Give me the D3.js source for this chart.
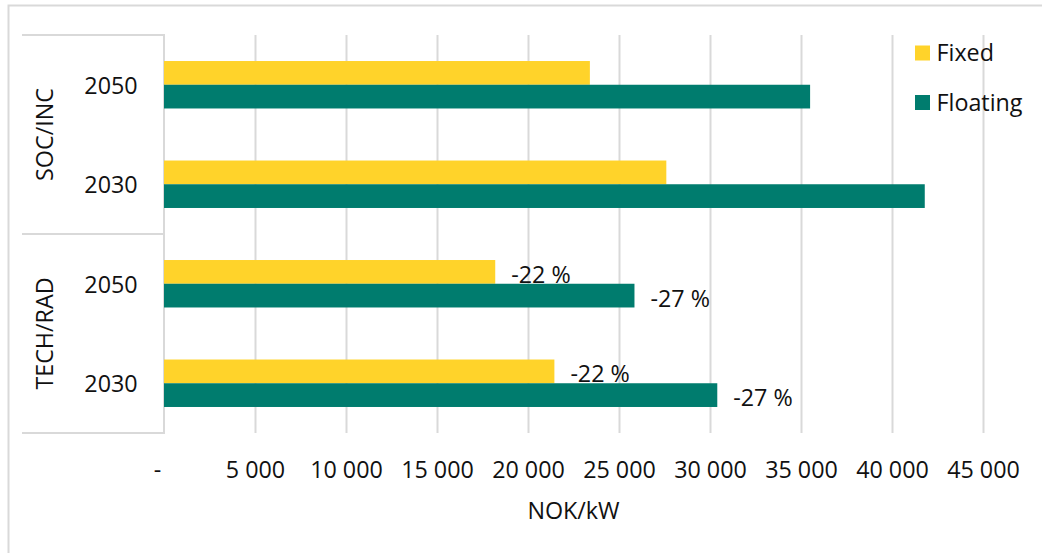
<!DOCTYPE html>
<html>
<head>
<meta charset="utf-8">
<script src="https://cdn.jsdelivr.net/npm/d3@7"></script>
<style>
  html, body { margin: 0; padding: 0; background: #fff; }
  svg { display: block; font-family: "Open Sans", "Noto Sans", sans-serif; }
</style>
</head>
<body>
<svg id="chart" width="1042" height="553"></svg>
<script>
// ---- data ----
const groups = ["SOC/INC", "TECH/RAD"];
const years = ["2050", "2030"];
const series = ["Fixed", "Floating"];
const colors = ["#FFD32A", "#007C6E"];
const fixedValues    = [23400, 27600, 18200, 21450];
const floatingValues = [35500, 41800, 25850, 30400];
const fixedLabels    = ["", "", "-22 %", "-22 %"];
const floatingLabels = ["", "", "-27 %", "-27 %"];
const tickValues = [0, 5000, 10000, 15000, 20000, 25000, 30000, 35000, 40000, 45000];
const tickLabels = ["-", "5 000", "10 000", "15 000", "20 000", "25 000", "30 000", "35 000", "40 000", "45 000"];
const axisTitle = "NOK/kW";

// ---- layout ----
const svg = d3.select("#chart");
const W = 1042, H = 553;
const plot = { left: 164, right: 983, top: 35, bottom: 433 };
const fontSize = 23.3;
const textColor = "#111";
const gridColor = "#d9d9d9";

const rows = [];
groups.forEach(g => years.forEach(y => rows.push({ group: g, year: y })));
rows.forEach((r, i) => {
  r.key = r.group + "|" + r.year;
  r.values = [fixedValues[i], floatingValues[i]];
  r.labels = [fixedLabels[i], floatingLabels[i]];
});

const x = d3.scaleLinear().domain([0, 45000]).range([plot.left, plot.right]);
const y = d3.scaleBand().domain(rows.map(r => r.key)).range([plot.top, plot.bottom]);
const barGroupFrac = 0.477;
const yInner = d3.scaleBand().domain(series).range([0, y.bandwidth() * barGroupFrac]);

// outer chart border (top & left visible)
svg.append("path")
  .attr("d", `M8.5,${H} L8.5,5.5 L${W},5.5`)
  .attr("fill", "none").attr("stroke", gridColor).attr("stroke-width", 2);

// gridlines
const gridAxis = d3.axisBottom(x).tickValues(tickValues.slice(1)).tickSize(-(plot.bottom - plot.top)).tickFormat("");
const grid = svg.append("g").attr("transform", `translate(0,${plot.bottom})`).call(gridAxis);
grid.select(".domain").remove();
grid.selectAll("line").attr("stroke", gridColor).attr("stroke-width", 2);

// tick labels
const labelAxis = d3.axisBottom(x).tickValues(tickValues).tickSize(0)
  .tickFormat((d, i) => tickLabels[i]);
const lab = svg.append("g").attr("transform", `translate(0,${plot.bottom})`).call(labelAxis);
lab.select(".domain").remove();
lab.selectAll("text")
  .attr("font-family", "Open Sans, sans-serif")
  .attr("font-size", fontSize).attr("fill", textColor)
  .attr("y", 0).attr("dy", 0)
  .attr("transform", "translate(0,35.5)")
  .attr("dominant-baseline", "central")
  .attr("dx", (d, i) => i === 0 ? -7 : 0);

// axis title
svg.append("text")
  .attr("x", (plot.left + plot.right) / 2).attr("y", 510)
  .attr("text-anchor", "middle").attr("dominant-baseline", "central")
  .attr("font-size", fontSize).attr("fill", textColor)
  .text(axisTitle);

// category boxes
const boxLeft = 22;
const boxLines = svg.append("g").attr("stroke", gridColor).attr("stroke-width", 2).attr("fill", "none");
groups.forEach(g => {
  const first = y(g + "|" + years[0]);
  boxLines.append("line").attr("x1", boxLeft).attr("x2", plot.left).attr("y1", first).attr("y2", first);
});
boxLines.append("line").attr("x1", boxLeft).attr("x2", plot.left).attr("y1", plot.bottom).attr("y2", plot.bottom);
boxLines.append("line").attr("x1", plot.left).attr("x2", plot.left).attr("y1", plot.top - 1).attr("y2", plot.bottom + 1);

// year labels
svg.append("g").selectAll("text").data(rows).join("text")
  .attr("x", 111)
  .attr("y", r => y(r.key) + y.bandwidth() / 2)
  .attr("text-anchor", "middle").attr("dominant-baseline", "central")
  .attr("font-size", fontSize).attr("fill", textColor)
  .text(r => r.year);

// group labels rotated
svg.append("g").selectAll("text").data(groups).join("text")
  .attr("transform", g => `translate(44,${y(g + "|" + years[0]) + y.bandwidth()}) rotate(-90)`)
  .attr("text-anchor", "middle").attr("dominant-baseline", "central")
  .attr("font-size", fontSize).attr("fill", textColor)
  .text(g => g);

// bars
const rowG = svg.append("g").selectAll("g").data(rows).join("g")
  .attr("transform", r => `translate(0,${y(r.key) + y.bandwidth() * (1 - barGroupFrac) / 2})`);
rowG.selectAll("rect").data(r => r.values.map((v, i) => ({ v, i, label: r.labels[i] }))).join("rect")
  .attr("x", x(0))
  .attr("y", d => yInner(series[d.i]))
  .attr("width", d => x(d.v) - x(0))
  .attr("height", yInner.bandwidth())
  .attr("fill", d => colors[d.i]);

// data labels
rowG.selectAll("text").data(r => r.values.map((v, i) => ({ v, i, label: r.labels[i] })).filter(d => d.label)).join("text")
  .attr("x", d => x(d.v) + 16)
  .attr("y", d => yInner(series[d.i]) + yInner.bandwidth() / 2 + 2)
  .attr("dominant-baseline", "central")
  .attr("font-size", fontSize).attr("fill", textColor)
  .text(d => d.label);

// legend
const leg = svg.append("g").selectAll("g").data(series).join("g")
  .attr("transform", (s, i) => `translate(915,${53 + i * 49.5})`);
leg.append("rect").attr("x", 0).attr("y", -7.5).attr("width", 15).attr("height", 15)
  .attr("fill", (s, i) => colors[i]);
leg.append("text").attr("x", 21.5).attr("y", -1)
  .attr("dominant-baseline", "central")
  .attr("font-size", fontSize).attr("fill", textColor)
  .text(s => s);
</script>
</body>
</html>
